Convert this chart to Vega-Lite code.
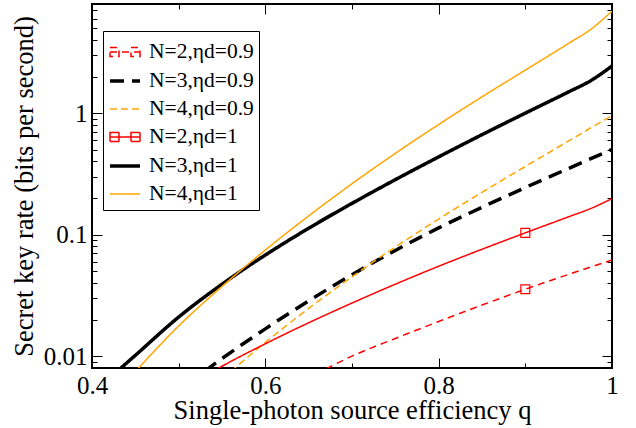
{
  "$schema": "https://vega.github.io/schema/vega-lite/v6.json",
  "width": 520,
  "height": 364,
  "autosize": {"type": "none"},
  "padding": {"left": 92, "top": 4, "right": 24, "bottom": 60},
  "background": "white",
  "config": {
    "font": "Liberation Serif",
    "view": {"stroke": "black", "strokeWidth": 2},
    "axis": {
      "labelFont": "Liberation Serif",
      "titleFont": "Liberation Serif",
      "labelFontSize": 25,
      "titleFontSize": 26.5,
      "labelColor": "black",
      "titleColor": "black",
      "titleFontWeight": "normal",
      "tickColor": "black",
      "tickWidth": 1,
      "domain": false,
      "grid": false
    },
    "legend": {"labelFont": "Liberation Serif"}
  },
  "datasets": {
    "curves": [
      {"series": "N=2,ηd=0.9", "q": 0.67, "v": 0.00787},
      {"series": "N=2,ηd=0.9", "q": 0.7, "v": 0.01002},
      {"series": "N=2,ηd=0.9", "q": 0.75, "v": 0.014},
      {"series": "N=2,ηd=0.9", "q": 0.8, "v": 0.01932},
      {"series": "N=2,ηd=0.9", "q": 0.85, "v": 0.02636},
      {"series": "N=2,ηd=0.9", "q": 0.9, "v": 0.03556},
      {"series": "N=2,ηd=0.9", "q": 0.95, "v": 0.04714},
      {"series": "N=2,ηd=0.9", "q": 1.0, "v": 0.0618},
      {"series": "N=3,ηd=0.9", "q": 0.53, "v": 0.00752},
      {"series": "N=3,ηd=0.9", "q": 0.55, "v": 0.00956},
      {"series": "N=3,ηd=0.9", "q": 0.6, "v": 0.0168},
      {"series": "N=3,ηd=0.9", "q": 0.65, "v": 0.02853},
      {"series": "N=3,ηd=0.9", "q": 0.7, "v": 0.04682},
      {"series": "N=3,ηd=0.9", "q": 0.75, "v": 0.0742},
      {"series": "N=3,ηd=0.9", "q": 0.8, "v": 0.1136},
      {"series": "N=3,ηd=0.9", "q": 0.85, "v": 0.168},
      {"series": "N=3,ηd=0.9", "q": 0.9, "v": 0.2443},
      {"series": "N=3,ηd=0.9", "q": 0.95, "v": 0.351},
      {"series": "N=3,ηd=0.9", "q": 1.0, "v": 0.5017},
      {"series": "N=4,ηd=0.9", "q": 0.56, "v": 0.00747},
      {"series": "N=4,ηd=0.9", "q": 0.6, "v": 0.013},
      {"series": "N=4,ηd=0.9", "q": 0.65, "v": 0.02474},
      {"series": "N=4,ηd=0.9", "q": 0.7, "v": 0.045},
      {"series": "N=4,ηd=0.9", "q": 0.75, "v": 0.0792},
      {"series": "N=4,ηd=0.9", "q": 0.8, "v": 0.1344},
      {"series": "N=4,ηd=0.9", "q": 0.85, "v": 0.2231},
      {"series": "N=4,ηd=0.9", "q": 0.9, "v": 0.3639},
      {"series": "N=4,ηd=0.9", "q": 0.95, "v": 0.59},
      {"series": "N=4,ηd=0.9", "q": 1.0, "v": 0.957},
      {"series": "N=2,ηd=1", "q": 0.54, "v": 0.00754},
      {"series": "N=2,ηd=1", "q": 0.55, "v": 0.00827},
      {"series": "N=2,ηd=1", "q": 0.6, "v": 0.01266},
      {"series": "N=2,ηd=1", "q": 0.65, "v": 0.01884},
      {"series": "N=2,ηd=1", "q": 0.7, "v": 0.02738},
      {"series": "N=2,ηd=1", "q": 0.75, "v": 0.03913},
      {"series": "N=2,ηd=1", "q": 0.8, "v": 0.05495},
      {"series": "N=2,ηd=1", "q": 0.85, "v": 0.07586},
      {"series": "N=2,ηd=1", "q": 0.9, "v": 0.1035},
      {"series": "N=2,ηd=1", "q": 0.95, "v": 0.1404},
      {"series": "N=2,ηd=1", "q": 0.975, "v": 0.1636},
      {"series": "N=2,ηd=1", "q": 1.0, "v": 0.1978},
      {"series": "N=3,ηd=1", "q": 0.43, "v": 0.00761},
      {"series": "N=3,ηd=1", "q": 0.45, "v": 0.01017},
      {"series": "N=3,ηd=1", "q": 0.5, "v": 0.021},
      {"series": "N=3,ηd=1", "q": 0.55, "v": 0.0391},
      {"series": "N=3,ηd=1", "q": 0.6, "v": 0.068},
      {"series": "N=3,ηd=1", "q": 0.65, "v": 0.1129},
      {"series": "N=3,ηd=1", "q": 0.7, "v": 0.1809},
      {"series": "N=3,ηd=1", "q": 0.75, "v": 0.2835},
      {"series": "N=3,ηd=1", "q": 0.8, "v": 0.4365},
      {"series": "N=3,ηd=1", "q": 0.85, "v": 0.6646},
      {"series": "N=3,ηd=1", "q": 0.9, "v": 1.0},
      {"series": "N=3,ηd=1", "q": 0.95, "v": 1.496},
      {"series": "N=3,ηd=1", "q": 0.975, "v": 1.841},
      {"series": "N=3,ηd=1", "q": 1.0, "v": 2.441},
      {"series": "N=4,ηd=1", "q": 0.45, "v": 0.00748},
      {"series": "N=4,ηd=1", "q": 0.5, "v": 0.01774},
      {"series": "N=4,ηd=1", "q": 0.55, "v": 0.0375},
      {"series": "N=4,ηd=1", "q": 0.6, "v": 0.0748},
      {"series": "N=4,ηd=1", "q": 0.65, "v": 0.1426},
      {"series": "N=4,ηd=1", "q": 0.7, "v": 0.2624},
      {"series": "N=4,ηd=1", "q": 0.75, "v": 0.4667},
      {"series": "N=4,ηd=1", "q": 0.8, "v": 0.806},
      {"series": "N=4,ηd=1", "q": 0.85, "v": 1.361},
      {"series": "N=4,ηd=1", "q": 0.9, "v": 2.259},
      {"series": "N=4,ηd=1", "q": 0.95, "v": 3.75},
      {"series": "N=4,ηd=1", "q": 0.975, "v": 4.86},
      {"series": "N=4,ηd=1", "q": 1.0, "v": 6.9}
    ]
  },
  "data": {"name": "curves"},
  "layer": [
    {
      "mark": {"type": "line", "clip": true, "interpolate": "monotone"},
      "encoding": {
        "x": {
          "field": "q", "type": "quantitative",
          "scale": {"domain": [0.4, 1.0], "nice": false, "zero": false},
          "axis": {
            "orient": "bottom",
            "title": "Single-photon source efficiency q",
            "values": [0.4, 0.5, 0.6, 0.7, 0.8, 0.9, 1.0],
            "labelExpr": "(datum.value == 0.5 || datum.value == 0.7 || datum.value == 0.9) ? '' : '' + datum.value",
            "tickSize": {"condition": {"test": "datum.value == 0.5 || datum.value == 0.7 || datum.value == 0.9", "value": -5}, "value": -10},
            "labelPadding": 15,
            "labelFlush": false,
            "labelOverlap": false,
            "titlePadding": -6
          }
        },
        "y": {
          "field": "v", "type": "quantitative",
          "scale": {"type": "log", "domain": [0.008, 7.9], "nice": false},
          "axis": {
            "orient": "left",
            "title": "Secret key rate (bits per second)",
            "values": [0.008, 0.009, 0.01, 0.02, 0.03, 0.04, 0.05, 0.06, 0.07, 0.08, 0.09, 0.1, 0.2, 0.3, 0.4, 0.5, 0.6, 0.7, 0.8, 0.9, 1, 2, 3, 4, 5, 6, 7],
            "labelExpr": "(datum.value == 0.01 || datum.value == 0.1 || datum.value == 1) ? '' + datum.value : ''",
            "tickSize": {"condition": {"test": "datum.value == 0.01 || datum.value == 0.1 || datum.value == 1", "value": -10}, "value": -5},
            "labelPadding": 15,
            "labelFlush": false,
            "labelOverlap": false,
            "titlePadding": 5
          }
        },
        "color": {
          "field": "series", "type": "nominal",
          "scale": {
            "domain": ["N=2,ηd=0.9", "N=3,ηd=0.9", "N=4,ηd=0.9", "N=2,ηd=1", "N=3,ηd=1", "N=4,ηd=1"],
            "range": ["#ff0000", "#000000", "#ffa500", "#ff0000", "#000000", "#ffa500"]
          },
          "legend": {
            "title": null,
            "orient": "none",
            "legendX": 11,
            "legendY": 27,
            "labelFontSize": 21.5,
            "labelColor": "black",
            "symbolSize": 900,
            "labelOffset": 7,
            "rowPadding": 1,
            "padding": 5,
            "strokeColor": "black",
            "fillColor": "white",
            "cornerRadius": 0,
            "encode": {
              "symbols": {
                "update": {
                  "shape": {"signal": "indexof(['N=2,ηd=0.9','N=2,ηd=1'], datum.value) >= 0 ? 'M-1,0H1M-1,-0.3H-0.4V0.3H-1ZM0.4,-0.3H1V0.3H0.4Z' : 'stroke'"}
                }
              }
            }
          }
        },
        "strokeDash": {
          "field": "series", "type": "nominal",
          "scale": {
            "domain": ["N=2,ηd=0.9", "N=3,ηd=0.9", "N=4,ηd=0.9", "N=2,ηd=1", "N=3,ηd=1", "N=4,ηd=1"],
            "range": [[7, 5], [14, 8], [7, 4], [1, 0], [1, 0], [1, 0]]
          }
        },
        "strokeWidth": {
          "field": "series", "type": "nominal",
          "scale": {
            "type": "ordinal",
            "domain": ["N=2,ηd=0.9", "N=3,ηd=0.9", "N=4,ηd=0.9", "N=2,ηd=1", "N=3,ηd=1", "N=4,ηd=1"],
            "range": [1.5, 3.5, 1.5, 1.5, 3.5, 1.5]
          }
        }
      }
    },
    {
      "transform": [
        {"filter": {"and": [{"field": "q", "equal": 0.9}, {"field": "series", "oneOf": ["N=2,ηd=0.9", "N=2,ηd=1"]}]}}
      ],
      "mark": {"type": "point", "shape": "square", "filled": false, "stroke": "#ff0000", "strokeWidth": 1.2, "size": 80, "opacity": 1},
      "encoding": {
        "x": {
          "field": "q", "type": "quantitative",
          "axis": {
            "orient": "top",
            "title": null,
            "labels": false,
            "values": [0.4, 0.5, 0.6, 0.7, 0.8, 0.9, 1.0],
            "tickSize": {"condition": {"test": "datum.value == 0.5 || datum.value == 0.7 || datum.value == 0.9", "value": -5}, "value": -10}
          }
        },
        "y": {
          "field": "v", "type": "quantitative",
          "axis": {
            "orient": "right",
            "title": null,
            "labels": false,
            "values": [0.008, 0.009, 0.01, 0.02, 0.03, 0.04, 0.05, 0.06, 0.07, 0.08, 0.09, 0.1, 0.2, 0.3, 0.4, 0.5, 0.6, 0.7, 0.8, 0.9, 1, 2, 3, 4, 5, 6, 7],
            "tickSize": {"condition": {"test": "datum.value == 0.01 || datum.value == 0.1 || datum.value == 1", "value": -10}, "value": -5}
          }
        }
      }
    }
  ],
  "resolve": {"axis": {"x": "independent", "y": "independent"}}
}
